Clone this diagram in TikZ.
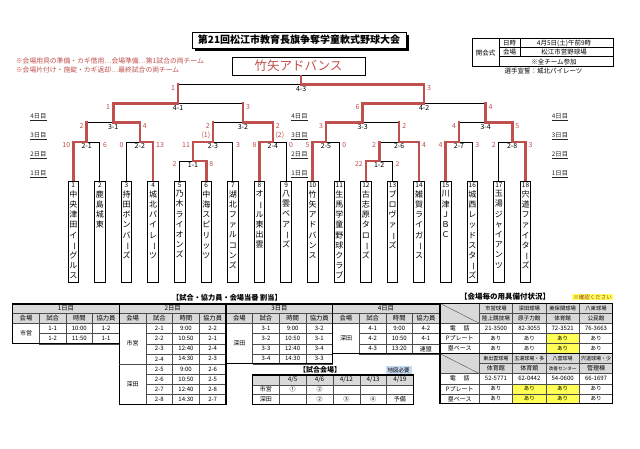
\documentclass[tikz,border=0pt]{standalone}
\usepackage{fontspec}
\setmainfont{Noto Sans CJK JP}
\usepackage{graphicx}
\usetikzlibrary{calc}
\definecolor{rd}{HTML}{C0504D}
\definecolor{hdrgray}{HTML}{D9D9D9}
\definecolor{yel}{HTML}{FFFF55}
\definecolor{lblue}{HTML}{C5D9F1}
\newcommand\vlong{\smash{\rotatebox[origin=c]{-90}{ー}}}
\newcommand\fsz[1]{\fontsize{#1}{#1}\selectfont}
\newcommand\vside[3]{\draw[#3] (#1) -- (#1 |- #2);}
\newcommand\hside[3]{\draw[#3] (#1 |- #2) -- (#2);}
\newcommand\bside[3]{\draw[#3] (#1) |- (#2);}
\newcommand\scL[4]{\node[sc,anchor=east] (#4) at ($(#1 |- #2)+(-2.9,3.2)$) {#3};}
\newcommand\scR[4]{\node[sc,anchor=west] (#4) at ($(#1 |- #2)+(2.9,3.2)$) {#3};}
\newcommand\mlab[2]{\node[ml] (l#1) at ($(#1)+(0,4.1)$) {#2};}
\newcommand\teambox[2]{\node[team] (t#1) at (tt#1) {};
  \node[tnum] (tn#1) at ($(tt#1)+(0,4.6)$) {#1};
  \node[tname] (tm#1) at ($(tt#1)+(0,9.3)$) {#2};}
\begin{document}
\begin{tikzpicture}[x=1pt,y=-1pt,
  bk/.style={line width=0.85pt,black},
  rl/.style={line width=2.6pt,rd,line cap=rect},
  team/.style={draw,line width=0.9pt,fill=white,minimum width=10.5pt,minimum height=101pt,inner sep=0pt,anchor=north},
  tnum/.style={font=\fsz{6.5},inner sep=0pt},
  tname/.style={font=\fontsize{8}{10.2}\selectfont,align=center,anchor=north,inner sep=0pt},
  sc/.style={font=\fsz{7},text=rd,inner sep=0pt},
  ml/.style={font=\fsz{7},inner sep=0pt},
  dl/.style={font=\fsz{6.3},text=black!85,inner sep=0pt},
  cl/.style={font=\fsz{6},inner sep=0pt},
  hd/.style={font=\fsz{6.3},inner sep=0pt},
  note/.style={font=\fsz{6.8},text=rd,inner sep=0pt,anchor=west},
  inl/.style={line width=0.4pt,black!70},
  outl/.style={line width=1.1pt,black}]
\useasboundingbox (0,0) rectangle (640,448);
\fill[white] (0,0) rectangle (640,448);

% ---------- title ----------
\fill[black] (194.5,34.5) rectangle (408.5,50.5);
\node[draw,line width=1pt,fill=white,minimum width=214pt,minimum height=16pt,inner sep=0pt,font=\bfseries\fsz{10}] (title) at (299,40) {第21回松江市教育長旗争奪学童軟式野球大会};
\node[draw,line width=0.8pt,fill=white,minimum width=133pt,minimum height=18pt,inner sep=0pt,text=rd,font=\fsz{12.5}] (w) at (298.5,66) {竹矢アドバンス};

\node[note] (n1) at (15.7,60.7) {※会場用具の準備・カギ借用…会場準備…第1試合の両チーム};
\node[note] (n2) at (15.7,70) {※会場片付け・施錠・カギ返却…最終試合の両チーム};

% ---------- info box ----------
\draw[line width=0.9pt] (472.3,38.7) rectangle (613.3,66.7);
\draw[line width=0.5pt] (499,38.7) -- (499,66.7);
\draw[line width=0.5pt] (520,38.7) -- (520,56.7);
\draw[line width=0.5pt] (499,47.7) -- (613.3,47.7);
\draw[line width=0.5pt] (499,56.7) -- (613.3,56.7);
\node[cl,font=\fsz{6.5}] (ia) at (485.6,52.7) {開会式};
\node[cl,font=\fsz{6.5}] (ib) at (509.5,43.2) {日時};
\node[cl,font=\fsz{6.5}] (ic) at (564,43.2) {4月5日(土)午前9時};
\node[cl,font=\fsz{6.5}] (id) at (509.5,52.2) {会場};
\node[cl,font=\fsz{6.5}] (ie) at (564,52.2) {松江市営野球場};
\node[cl,font=\fsz{6.5}] (if) at (554,61.7) {※全チーム参加};
\node[cl,font=\fsz{6.5}] (ig) at (543.5,71) {選手宣誓：城北パイレーツ};

% ---------- bracket coordinates ----------
\foreach \i/\x in {1/73.3,2/99.9,3/126.5,4/153.1,5/179.7,6/206.3,7/232.9,8/259.5,9/286.1,10/312.7,11/339.3,12/365.9,13/392.5,14/419.1,15/445.7,16/472.3,17/498.9,18/525.5}
  {\coordinate (tt\i) at (\x,181);}
\coordinate (m11) at (193.0,161);
\coordinate (m12) at (379.2,161);
\coordinate (m21) at (86.6,142);
\coordinate (m22) at (139.8,142);
\coordinate (m23) at (212.95,142);
\coordinate (m24) at (272.8,142);
\coordinate (m25) at (326.0,142);
\coordinate (m26) at (399.15,142);
\coordinate (m27) at (459.0,142);
\coordinate (m28) at (512.2,142);
\coordinate (m31) at (113.2,122.7);
\coordinate (m32) at (242.9,122.7);
\coordinate (m33) at (362.6,122.7);
\coordinate (m34) at (485.6,122.7);
\coordinate (m41) at (178.05,103.7);
\coordinate (m42) at (424.1,103.7);
\coordinate (mF) at (301.1,84.7);

% black parts
\bside{tt2}{m21}{bk}
\bside{tt3}{m22}{bk}
\bside{tt5}{m11}{bk}
\bside{tt7}{m23}{bk}
\bside{tt9}{m24}{bk}
\hside{m21}{m31}{bk}
\hside{m23}{m32}{bk}
\hside{m32}{m41}{bk}
\bside{tt11}{m25}{bk}
\bside{tt13}{m12}{bk}
\hside{m12}{m26}{bk}
\bside{tt16}{m27}{bk}
\bside{tt17}{m28}{bk}
\hside{m26}{m33}{bk}
\hside{m27}{m34}{bk}
\hside{m34}{m42}{bk}
\hside{m41}{mF}{bk}
% red parts
\bside{tt1}{m21}{rl}
\bside{tt4}{m22}{rl}
\bside{tt6}{m11}{rl}
\bside{tt8}{m24}{rl}
\bside{tt10}{m25}{rl}
\bside{tt12}{m12}{rl}
\bside{tt14}{m26}{rl}
\bside{tt15}{m27}{rl}
\bside{tt18}{m28}{rl}
\bside{m11}{m23}{rl}
\bside{m22}{m31}{rl}
\bside{m24}{m32}{rl}
\bside{m31}{m41}{rl}
\bside{m25}{m33}{rl}
\bside{m28}{m34}{rl}
\bside{m33}{m42}{rl}
\bside{m42}{mF}{rl}
\vside{m21}{m31}{rl}
\vside{m23}{m32}{rl}
\vside{m32}{m41}{rl}
\vside{m12}{m26}{rl}
\vside{m26}{m33}{rl}
\vside{m27}{m34}{rl}
\vside{m34}{m42}{rl}
\vside{m41}{mF}{rl}
\draw[rl,line cap=butt] (mF) -- (mF |- w.south);

% scores
\scL{tt1}{m21}{10}{s21a} \scR{tt2}{m21}{6}{s21b}
\scL{tt3}{m22}{0}{s22a} \scR{tt4}{m22}{13}{s22b}
\scL{tt5}{m11}{2}{s11a} \scR{tt6}{m11}{8}{s11b}
\scL{m11}{m23}{11}{s23a} \scR{tt7}{m23}{3}{s23b}
\scL{tt8}{m24}{8}{s24a} \scR{tt9}{m24}{0}{s24b}
\scL{m21}{m31}{2}{s31a} \scR{m22}{m31}{4}{s31b}
\scL{m23}{m32}{2}{s32a} \scR{m24}{m32}{2}{s32b}
\scL{m31}{m41}{1}{s41a} \scR{m32}{m41}{3}{s41b}
\scL{tt10}{m25}{5}{s25a} \scR{tt11}{m25}{0}{s25b}
\scL{tt12}{m12}{22}{s12a} \scR{tt13}{m12}{2}{s12b}
\scL{m12}{m26}{2}{s26a} \scR{tt14}{m26}{4}{s26b}
\scL{tt15}{m27}{4}{s27a} \scR{tt16}{m27}{3}{s27b}
\scL{tt17}{m28}{2}{s28a} \scR{tt18}{m28}{3}{s28b}
\scL{m25}{m33}{3}{s33a} \scR{m26}{m33}{2}{s33b}
\scL{m27}{m34}{4}{s34a} \scR{m28}{m34}{5}{s34b}
\scL{m33}{m42}{6}{s42a} \scR{m34}{m42}{4}{s42b}
\scL{m41}{mF}{1}{sFa} \scR{m42}{mF}{3}{sFb}
\node[sc,anchor=east] (p1) at (210.4,135.5) {(1)};
\node[sc,anchor=west] (p2) at (275.3,135.5) {(2)};

% match labels
\mlab{m11}{1-1} \mlab{m12}{1-2}
\mlab{m21}{2-1} \mlab{m22}{2-2} \mlab{m23}{2-3} \mlab{m24}{2-4}
\mlab{m25}{2-5} \mlab{m26}{2-6} \mlab{m27}{2-7} \mlab{m28}{2-8}
\mlab{m31}{3-1} \mlab{m32}{3-2} \mlab{m33}{3-3} \mlab{m34}{3-4}
\mlab{m41}{4-1} \mlab{m42}{4-2} \mlab{mF}{4-3}

% day labels
\foreach \dx/\c in {38.5/a,299.5/b,560/c}{
  \node[dl] (d4\c) at (\dx,117) {\underline{4日目}};
  \node[dl] (d3\c) at (\dx,136) {\underline{3日目}};
  \node[dl] (d2\c) at (\dx,155) {\underline{2日目}};
  \node[dl] (d1\c) at (\dx,174) {\underline{1日目}};
}

% team boxes
\teambox{1}{中\\央\\津\\田\\イ\\\vlong\\グ\\ル\\ス}
\teambox{2}{鹿\\島\\城\\東}
\teambox{3}{持\\田\\ボ\\ン\\バ\\\vlong\\ズ}
\teambox{4}{城\\北\\パ\\イ\\レ\\\vlong\\ツ}
\teambox{5}{乃\\木\\ラ\\イ\\オ\\ン\\ズ}
\teambox{6}{中\\海\\ス\\ピ\\リ\\ッ\\ツ}
\teambox{7}{湖\\北\\フ\\ァ\\ル\\コ\\ン\\ズ}
\teambox{8}{オ\\\vlong\\ル\\東\\出\\雲}
\teambox{9}{八\\雲\\ベ\\ア\\\vlong\\ズ}
\teambox{10}{竹\\矢\\ア\\ド\\バ\\ン\\ス}
\teambox{11}{生\\馬\\学\\童\\野\\球\\ク\\ラ\\ブ}
\teambox{12}{古\\志\\原\\タ\\ロ\\\vlong\\ズ}
\teambox{13}{ブ\\ロ\\ヴ\\ァ\\\vlong\\ズ}
\teambox{14}{雑\\賀\\ラ\\イ\\ガ\\\vlong\\ス}
\teambox{15}{川\\津\\Ｊ\\Ｂ\\Ｃ}
\teambox{16}{城\\西\\レ\\ッ\\ド\\ス\\タ\\\vlong\\ズ}
\teambox{17}{玉\\湯\\ジ\\ャ\\イ\\ア\\ン\\ツ}
\teambox{18}{宍\\道\\フ\\ァ\\イ\\タ\\\vlong\\ズ}

% ---------- schedule tables ----------
\node[font=\bfseries\fsz{7.2},inner sep=0pt] (stitle) at (227,297.5) {【試合・協力員・会場当番 割当】};
\def\cw{26.65}
\foreach \L/\T/\N in {12.7/1日目/2,119.35/2日目/8,226/3日目/4,332.65/4日目/3}{
  \pgfmathsetmacro\R{\L+4*\cw}
  \pgfmathsetmacro\B{323.5+\N*10.1}
  \fill[hdrgray] (\L,304) rectangle (\R,323.5);
  \draw[inl] (\L,313.5) -- (\R,313.5);
  \draw[inl] (\L,323.5) -- (\R,323.5);
  \foreach \k in {1,2,3}{\draw[inl] ({\L+\k*\cw},313.5) -- ({\L+\k*\cw},\B);}
  \foreach \r in {1,...,\N}{\draw[inl] ({\L+\cw},{323.5+\r*10.1}) -- (\R,{323.5+\r*10.1});}
  \draw[outl] (\L,304) rectangle (\R,\B);
  \node[hd] at ({\L+2*\cw},308.75) {\T};
  \foreach \k/\s in {0/会場,1/試合,2/時間,3/協力員}{\node[hd] at ({\L+(\k+0.5)*\cw},318.5) {\s};}
}
\draw[inl] (119.35,363.9) -- (146,363.9);
\node[cl] (v1) at (26,333.6) {市営};
\node[cl] (v2) at (132.7,343.7) {市営};
\node[cl] (v3) at (132.7,384.1) {深田};
\node[cl] (v4) at (239.3,343.7) {深田};
\node[cl] (v5) at (346,338.65) {深田};
\foreach \g/\t/\c [count=\r] in {1-1/10:00/1-2,1-2/11:50/1-1}{
  \node[cl] at ({12.7+1.5*\cw},{323.5+(\r-0.5)*10.1}) {\g};
  \node[cl] at ({12.7+2.5*\cw},{323.5+(\r-0.5)*10.1}) {\t};
  \node[cl] at ({12.7+3.5*\cw},{323.5+(\r-0.5)*10.1}) {\c};}
\foreach \g/\t/\c [count=\r] in {2-1/9:00/2-2,2-2/10:50/2-1,2-3/12:40/2-4,2-4/14:30/2-3,2-5/9:00/2-6,2-6/10:50/2-5,2-7/12:40/2-8,2-8/14:30/2-7}{
  \node[cl] at ({119.35+1.5*\cw},{323.5+(\r-0.5)*10.1}) {\g};
  \node[cl] at ({119.35+2.5*\cw},{323.5+(\r-0.5)*10.1}) {\t};
  \node[cl] at ({119.35+3.5*\cw},{323.5+(\r-0.5)*10.1}) {\c};}
\foreach \g/\t/\c [count=\r] in {3-1/9:00/3-2,3-2/10:50/3-1,3-3/12:40/3-4,3-4/14:30/3-3}{
  \node[cl] at ({226+1.5*\cw},{323.5+(\r-0.5)*10.1}) {\g};
  \node[cl] at ({226+2.5*\cw},{323.5+(\r-0.5)*10.1}) {\t};
  \node[cl] at ({226+3.5*\cw},{323.5+(\r-0.5)*10.1}) {\c};}
\foreach \g/\t/\c [count=\r] in {4-1/9:00/4-2,4-2/10:50/4-1,4-3/13:20/連盟}{
  \node[cl] at ({332.65+1.5*\cw},{323.5+(\r-0.5)*10.1}) {\g};
  \node[cl] at ({332.65+2.5*\cw},{323.5+(\r-0.5)*10.1}) {\t};
  \node[cl] at ({332.65+3.5*\cw},{323.5+(\r-0.5)*10.1}) {\c};}

% ---------- venue table ----------
\node[font=\bfseries\fsz{7},inner sep=0pt] (vtitle) at (320,369.5) {【試合会場】};
\node[fill=lblue,font=\fsz{5.5},inner sep=0pt,minimum width=26pt,minimum height=8pt] (map) at (398.7,370) {地図必要};
\fill[hdrgray] (252.5,375) rectangle (413.3,384.8);
\foreach \k in {1,...,5}{\draw[inl] ({252.5+\k*26.8},375) -- ({252.5+\k*26.8},404.4);}
\draw[inl] (252.5,384.8) -- (413.3,384.8);
\draw[inl] (252.5,394.6) -- (413.3,394.6);
\draw[outl] (252.5,375) rectangle (413.3,404.4);
\foreach \s [count=\k] in {4/5,4/6,4/12,4/13,4/19}{\node[hd] at ({252.5+(\k+0.5)*26.8},379.9) {\s};}
\node[cl] (vr1) at (265.9,389.7) {市営};
\node[cl] (vr2) at (265.9,399.5) {深田};
\node[cl] (c1) at (292.7,389.7) {①};
\node[cl] (c2) at (319.5,389.7) {②};
\node[cl] (c3) at (319.5,399.5) {②};
\node[cl] (c4) at (346.3,399.5) {③};
\node[cl] (c5) at (373.1,399.5) {④};
\node[cl] (c6) at (399.9,399.5) {予備};

% ---------- equipment table ----------
\node[font=\bfseries\fsz{7.5},inner sep=0pt] (etitle) at (505,297) {【会場毎の用具備付状況】};
\node[fill=yel,font=\fsz{5.5},text=rd!80!black,inner sep=0pt,minimum width=41pt,minimum height=6.5pt] (chk) at (592.5,297) {※確認ください};
\fill[yel] (546,333.4) rectangle (579.35,353.6);
\fill[yel] (512.65,383.7) rectangle (579.35,403.9);
\foreach \T in {303.3,353.6}{
  \fill[hdrgray] (440,\T) rectangle (612.7,{\T+20});
  \draw[inl] (479.3,{\T+10}) -- (612.7,{\T+10});
  \foreach \yy in {20,30.1,40.2}{\draw[inl] (440,{\T+\yy}) -- (612.7,{\T+\yy});}
  \foreach \xx in {479.3,512.65,546,579.35}{\draw[inl] (\xx,\T) -- (\xx,{\T+50.3});}
  \draw[inl] (440,\T) -- (479.3,{\T+20});
  \draw[outl] (440,\T) rectangle (612.7,{\T+50.3});
  \node[cl] at (459.65,{\T+25.05}) {電\hspace{1.3em}話};
  \node[cl] at (459.65,{\T+35.15}) {Pプレート};
  \node[cl] at (459.65,{\T+45.25}) {塁ベース};
  \foreach \xx in {495.98,529.33,562.68,596.03}{
    \node[cl,font=\fsz{5.5}] at (\xx,{\T+35.15}) {あり};
    \node[cl,font=\fsz{5.5}] at (\xx,{\T+45.25}) {あり};}
}
\foreach \xx/\p/\q/\r in {495.98/市営球場/陸上競技場/21-3500,529.33/深田球場/原子力館/82-3055,562.68/美保関球場/体育館/72-3521,596.03/八束球場/公民館/76-3663}{
  \node[cl,font=\fsz{5.3}] at (\xx,308.3) {\p};
  \node[cl,font=\fsz{5.6}] at (\xx,318.3) {\q};
  \node[cl] at (\xx,328.35) {\r};}
\foreach \xx/\p/\q/\r in {495.98/東出雲球場/体育館/52-5771,529.33/玉湯球場・多/体育館/62-0442,562.68/八雲球場/{\fsz{4.6}改善センター}/54-0600,596.03/宍道球場・少/管理棟/66-1697}{
  \node[cl,font=\fsz{5}] at (\xx,358.6) {\p};
  \node[cl,font=\fsz{6}] at (\xx,368.6) {\q};
  \node[cl] at (\xx,378.65) {\r};}
\end{tikzpicture}
\end{document}
